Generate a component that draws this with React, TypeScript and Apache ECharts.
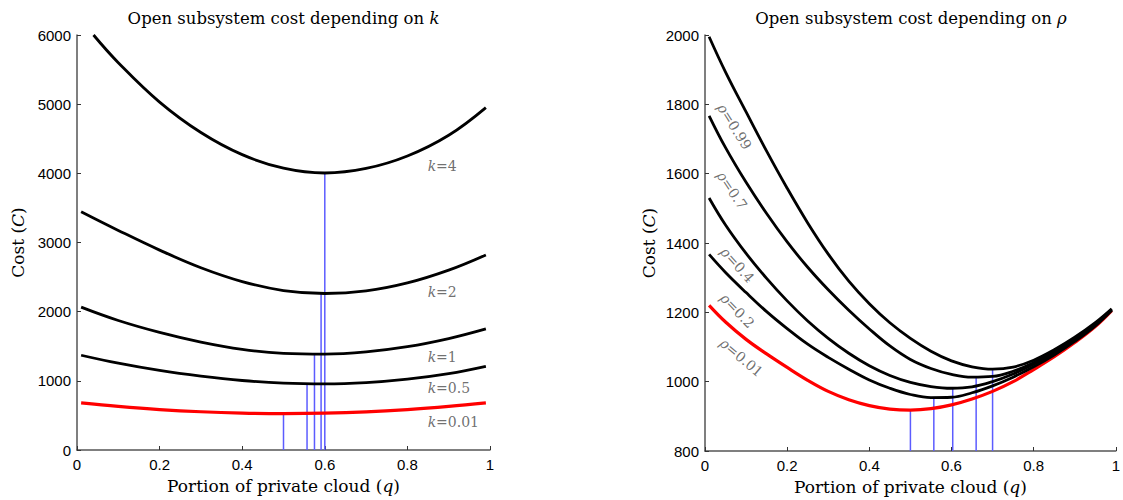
import React, { useEffect, useRef } from "react";
import * as echarts from "echarts";

// ---------- data ----------
const qLeft = [0.01, 0.1, 0.2, 0.3, 0.4, 0.5, 0.6, 0.7, 0.8, 0.9, 0.99];
const qK4 = [0.04, 0.1, 0.2, 0.3, 0.4, 0.5, 0.6, 0.7, 0.8, 0.9, 0.99];
const costK4 = [6000, 5600, 5030, 4590, 4270, 4075, 4005, 4070, 4250, 4550, 4950];
const costK2 = [3445, 3175, 2890, 2635, 2435, 2305, 2263, 2300, 2415, 2600, 2820];
const costK1 = [2065, 1872, 1700, 1560, 1455, 1398, 1386, 1418, 1493, 1610, 1750];
const costK05 = [1370, 1255, 1150, 1068, 1005, 967, 956, 975, 1025, 1105, 1210];
const costK001 = [680, 630, 585, 553, 534, 527, 533, 552, 585, 630, 680];

const qRight = [0.01, 0.05, 0.1, 0.15, 0.2, 0.25, 0.3, 0.35, 0.4, 0.45, 0.5, 0.55, 0.6, 0.65, 0.7, 0.75, 0.8, 0.85, 0.9, 0.95, 0.99];
const costR099 = [1995, 1893, 1778, 1665, 1558, 1458, 1368, 1290, 1225, 1170, 1125, 1088, 1060, 1043, 1036, 1042, 1062, 1092, 1128, 1170, 1210];
const costR07 = [1767, 1675, 1575, 1485, 1403, 1330, 1265, 1206, 1152, 1103, 1064, 1038, 1021, 1013, 1015, 1030, 1055, 1086, 1123, 1167, 1209];
const costR04 = [1530, 1452, 1370, 1298, 1233, 1175, 1125, 1082, 1046, 1018, 998, 986, 981, 985, 1000, 1022, 1050, 1082, 1120, 1164, 1207];
const costR02 = [1367, 1315, 1257, 1202, 1153, 1108, 1070, 1036, 1005, 981, 963, 954, 955, 968, 988, 1013, 1043, 1077, 1116, 1161, 1206];
const costR001 = [1220, 1172, 1122, 1080, 1041, 1004, 972, 948, 931, 921, 918, 922, 933, 950, 972, 1000, 1035, 1072, 1113, 1159, 1205];

// optimum (minimum) markers
const leftMinQ = [0.5, 0.557, 0.575, 0.591, 0.6];
const leftMinC = [527, 955, 1385, 2262, 4005];
const rightMinQ = [0.5, 0.557, 0.603, 0.66, 0.7];
const rightMinC = [918, 952, 981, 1013, 1036];

// curve labels
const kNames = ["4", "2", "1", "0.5", "0.01"];
const kLabelQ = [0.849, 0.849, 0.849, 0.849, 0.849];
const kLabelC = [4110, 2290, 1340, 890, 400];
const rhoNames = ["0.99", "0.7", "0.4", "0.2", "0.01"];
const rhoLabelQ = [0.072, 0.066, 0.079, 0.079, 0.089];
const rhoLabelC = [1736, 1552, 1337, 1205, 1070];
const rhoLabelRot = [-58, -56, -48, -46, -40];

const leftTicksY = { min: 0, max: 6000, interval: 1000 };
const rightTicksY = { min: 800, max: 2000, interval: 200 };

const SERIF = "'DejaVu Serif', 'Liberation Serif', serif";
const SANS = "'Liberation Sans', Arial, sans-serif";
const BLUE = "#5c5cff";

const GRID_L = { left: 77, top: 35, width: 413, height: 415 };
const GRID_R = { left: 705, top: 35, width: 412, height: 416 };

const zip = (xs: number[], ys: number[]) => ys.map((y, i) => [xs[i], y]);

export default function App() {
  const ref = useRef<HTMLDivElement>(null);
  useEffect(() => {
    if (!ref.current) return;
    const chart = echarts.init(ref.current, undefined, { renderer: "svg" });

    const curve = (gi: number, xs: number[], ys: number[], color: string, w: number) => ({
      type: "line",
      xAxisIndex: gi,
      yAxisIndex: gi,
      data: zip(xs, ys),
      smooth: 0.4,
      showSymbol: false,
      symbol: "none",
      lineStyle: { color, width: w },
      z: 3,
      silent: true,
    });
    const vline = (gi: number, q: number, c: number, base: number) => ({
      type: "line",
      xAxisIndex: gi,
      yAxisIndex: gi,
      data: [
        [q, base],
        [q, c],
      ],
      showSymbol: false,
      symbol: "none",
      lineStyle: { color: BLUE, width: 1.5 },
      z: 2,
      silent: true,
    });
    const nameStyle = {
      color: "#000",
      fontFamily: SERIF,
      fontSize: 17,
      rich: { i: { fontStyle: "italic", fontFamily: SERIF, fontSize: 17, color: "#000" } },
    };
    const axisX = (gi: number) => ({
      type: "value",
      gridIndex: gi,
      min: 0,
      max: 1,
      interval: 0.2,
      splitLine: { show: false },
      axisLine: { show: true, lineStyle: { color: "#555", width: 1.5 } },
      axisTick: { show: true, inside: true, length: 4, lineStyle: { color: "#333" } },
      axisLabel: { color: "#000", fontFamily: SANS, fontSize: 15, margin: 7, formatter: (v: number) => String(v) },
      name: "Portion of private cloud ({i|q})",
      nameLocation: "middle",
      nameGap: 27,
      nameTextStyle: nameStyle,
    });
    const axisY = (gi: number, t: { min: number; max: number; interval: number }, gap: number) => ({
      type: "value",
      gridIndex: gi,
      min: t.min,
      max: t.max,
      interval: t.interval,
      splitLine: { show: false },
      axisLine: { show: true, lineStyle: { color: "#555", width: 1.5 } },
      axisTick: { show: true, inside: true, length: 4, lineStyle: { color: "#333" } },
      axisLabel: { color: "#000", fontFamily: SANS, fontSize: 15, margin: 6, formatter: (v: number) => String(v) },
      name: "Cost ({i|C})",
      nameLocation: "middle",
      nameGap: gap,
      nameTextStyle: nameStyle,
    });

    const labelRich = {
      i: { fontStyle: "italic", fontFamily: SERIF, fontSize: 14, color: "#4a4a4a" },
      n: { fontFamily: SERIF, fontSize: 14, color: "#4a4a4a" },
    };

    const kLabelSeries = {
      type: "scatter",
      xAxisIndex: 0,
      yAxisIndex: 0,
      symbolSize: 0,
      silent: true,
      data: kNames.map((n, i) => ({ value: [kLabelQ[i], kLabelC[i]], name: n })),
      label: {
        show: true,
        position: "inside",
        align: "left",
        verticalAlign: "middle",
        formatter: (p: any) => `{i|k}{n|=${p.name}}`,
        rich: labelRich,
      },
      z: 5,
    };
    const rhoLabelSeries = {
      type: "scatter",
      xAxisIndex: 1,
      yAxisIndex: 1,
      symbolSize: 0,
      silent: true,
      data: rhoNames.map((n, i) => ({
        value: [rhoLabelQ[i], rhoLabelC[i]],
        name: n,
        label: { rotate: rhoLabelRot[i] },
      })),
      label: {
        show: true,
        position: "inside",
        align: "center",
        verticalAlign: "middle",
        formatter: (p: any) => `{i|ρ}{n|=${p.name}}`,
        rich: labelRich,
      },
      z: 5,
    };

    const series: any[] = [];
    leftMinQ.forEach((q, i) => series.push(vline(0, q, leftMinC[i], leftTicksY.min)));
    rightMinQ.forEach((q, i) => series.push(vline(1, q, rightMinC[i], rightTicksY.min)));
    series.push(curve(0, qLeft, costK001, "#ff0000", 3.2));
    series.push(curve(0, qLeft, costK05, "#000", 2.8));
    series.push(curve(0, qLeft, costK1, "#000", 2.8));
    series.push(curve(0, qLeft, costK2, "#000", 2.8));
    series.push(curve(0, qK4, costK4, "#000", 2.8));
    series.push(curve(1, qRight, costR001, "#ff0000", 3.2));
    series.push(curve(1, qRight, costR02, "#000", 2.8));
    series.push(curve(1, qRight, costR04, "#000", 2.8));
    series.push(curve(1, qRight, costR07, "#000", 2.8));
    series.push(curve(1, qRight, costR099, "#000", 2.8));
    series.push(kLabelSeries, rhoLabelSeries);

    const titleText = (text: string, x: number) => ({
      type: "text",
      x,
      y: 18,
      style: {
        text,
        textAlign: "center",
        textVerticalAlign: "middle",
        fontFamily: SERIF,
        fontSize: 16.5,
        fill: "#000",
        rich: {
          i: { fontStyle: "italic", fontFamily: SERIF, fontSize: 16.5, fill: "#000" },
        },
      },
    });

    chart.setOption({
      animation: false,
      backgroundColor: "#fff",
      grid: [GRID_L, GRID_R],
      xAxis: [axisX(0), axisX(1)],
      yAxis: [axisY(0, leftTicksY, 51), axisY(1, rightTicksY, 48)],
      series,
      graphic: [
        titleText("Open subsystem cost depending on {i|k}", GRID_L.left + GRID_L.width / 2),
        titleText("Open subsystem cost depending on {i|ρ}", GRID_R.left + GRID_R.width / 2),
      ],
    });
    return () => chart.dispose();
  }, []);
  return (
    <div
      ref={ref}
      style={{ position: "fixed", left: 0, top: 0, width: 1123, height: 500, background: "#fff" }}
    />
  );
}
